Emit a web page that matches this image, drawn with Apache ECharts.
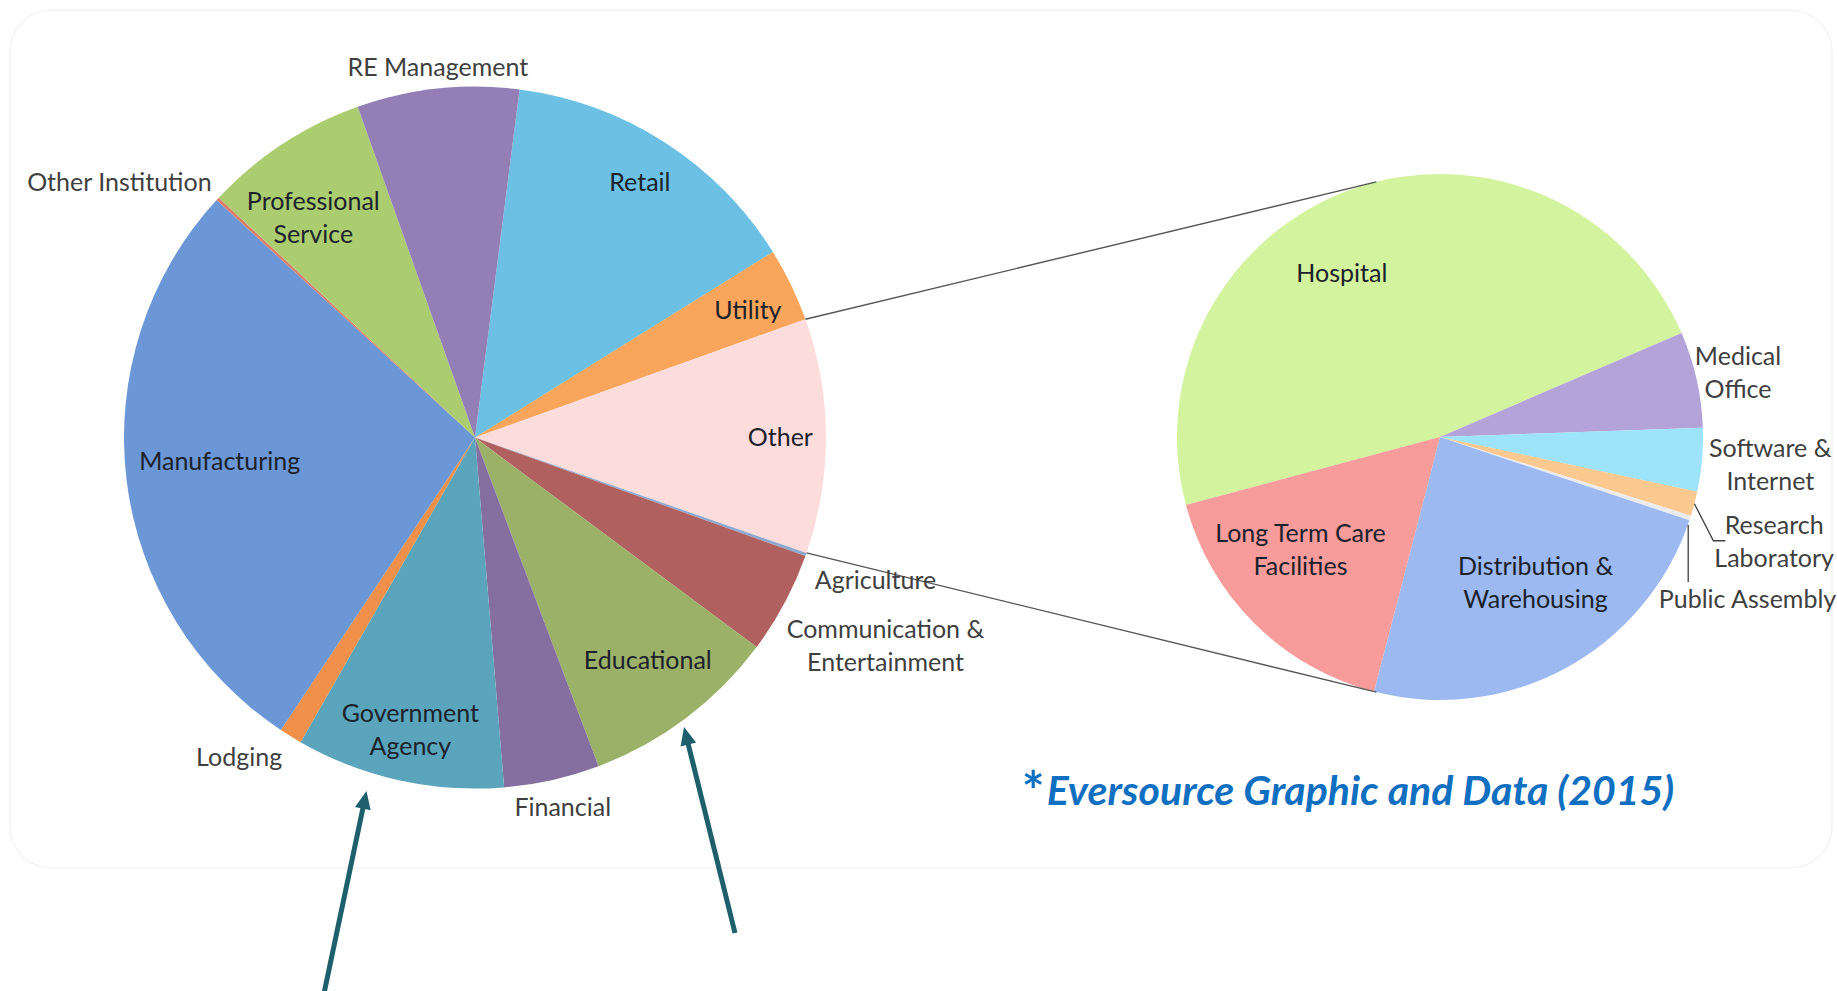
<!DOCTYPE html>
<html>
<head>
<meta charset="utf-8">
<script src="https://cdn.jsdelivr.net/npm/echarts@6/dist/echarts.min.js"></script>
<style>
html,body{margin:0;padding:0;background:#ffffff;}
#chart{width:1837px;height:991px;}
</style>
</head>
<body>
<div id="chart"></div>
<script>
// ---------- DATA ----------
const mainCategories = ['Retail','Utility','Other','Agriculture','Communication & Entertainment','Educational','Financial','Government Agency','Lodging','Manufacturing','Other Institution','Professional Service','RE Management'];
const mainValues = [14.1, 3.4, 10.8, 0.15, 4.7, 9.1, 4.4, 9.6, 1.05, 27.5, 0.15, 7.6, 7.45];
const otherCategories = ['Hospital','Medical Office','Software & Internet','Research Laboratory','Public Assembly','Distribution & Warehousing','Long Term Care Facilities'];
const otherValues = [47.7, 5.9, 3.9, 1.5, 0.3, 23.9, 16.8];
const explodedCategory = 'Other';
const sourceNote = '*Eversource Graphic and Data (2015)';

// ---------- STYLE ----------
const FONT = 'Lato, "Open Sans", "DejaVu Sans", sans-serif';
const LEFT = {cx: 475, cy: 437.6, r: 351, startAngle: 82.7};
const RIGHT = {cx: 1440, cy: 437, r: 263, startAngle: 195};
const mainColors = {
  'Retail':'#6BC0E3','Utility':'#F9A65C','Other':'#FDDCDC','Agriculture':'#8EA9D0',
  'Communication & Entertainment':'#B0605E','Educational':'#9BB168','Financial':'#856FA0',
  'Government Agency':'#5AA5BB','Lodging':'#F0904A','Manufacturing':'#6C97D6',
  'Other Institution':'#DB7D6B','Professional Service':'#ABCD70','RE Management':'#937FB5'
};
const otherColors = {
  'Hospital':'#D3F39E','Medical Office':'#B4A3D8','Software & Internet':'#9DE3FA',
  'Research Laboratory':'#FBC88F','Public Assembly':'#ECECEC',
  'Distribution & Warehousing':'#9CB9F2','Long Term Care Facilities':'#F89B9B'
};
// label placement: radius factor, angular nudge (deg, clockwise), inside flag
const mainLabels = {
  'Retail':{r:0.87,n:0,inside:true},
  'Utility':{r:0.86,n:0.5,inside:true},
  'Other':{r:0.87,n:0,inside:true},
  'Agriculture':{r:1.21,n:0},
  'Communication & Entertainment':{text:'Communication &\nEntertainment',r:1.31,n:-1.4},
  'Educational':{r:0.80,n:-1,inside:true},
  'Financial':{r:1.08,n:-0.7},
  'Government Agency':{text:'Government\nAgency',r:0.85,n:0,inside:true},
  'Lodging':{r:1.13,n:4.8},
  'Manufacturing':{r:0.73,n:2,inside:true},
  'Other Institution':{r:1.25,n:-7},
  'Professional Service':{text:'Professional\nService',r:0.78,n:-3,inside:true},
  'RE Management':{r:1.065,n:0.4}
};
const otherLabels = {
  'Hospital':{r:0.73,n:-11.6,inside:true},
  'Medical Office':{text:'Medical\nOffice',r:1.16,n:0.3},
  'Software & Internet':{text:'Software &\nInternet',r:1.26,n:-0.4},
  'Research Laboratory':{text:'Research\nLaboratory',r:1.33,n:2.5,leader:[[0,0],[19,37],[31,37]]},
  'Public Assembly':{r:1.32,n:9.7,leader:[[-2,7],[-2,64]]},
  'Distribution & Warehousing':{text:'Distribution &\nWarehousing',r:0.66,n:-4.9,inside:true},
  'Long Term Care Facilities':{text:'Long Term Care\nFacilities',r:0.68,n:6.5,inside:true}
};
const connectorTargets = [346, 194]; // clockwise deg from top on the secondary pie

const chart = echarts.init(document.getElementById('chart'), null, {renderer:'svg'});

function pieSeries(cats, vals, colors, geo){
  return {
    type:'pie', center:[geo.cx, geo.cy], radius:[0, geo.r],
    startAngle: geo.startAngle, clockwise:true, animation:false, silent:true,
    avoidLabelOverlap:false, label:{show:false}, labelLine:{show:false},
    emphasis:{disabled:true}, itemStyle:{borderWidth:0},
    data: cats.map((c,i)=>({name:c, value:vals[i], itemStyle:{color:colors[c]}}))
  };
}

chart.setOption({
  backgroundColor:'#ffffff',
  tooltip:{show:false},
  series:[
    pieSeries(mainCategories, mainValues, mainColors, LEFT),
    pieSeries(otherCategories, otherValues, otherColors, RIGHT)
  ]
});

function sliceGeom(seriesIndex, vals, geo){
  const out = [];
  try{
    const data = chart.getModel().getSeriesByIndex(seriesIndex).getData();
    for(let i=0;i<data.count();i++){
      const l = data.getItemLayout(i);
      out.push({a0:l.startAngle, a1:l.endAngle, cx:l.cx, cy:l.cy, r:l.r});
    }
    if(out.length === vals.length) return out;
  }catch(e){}
  out.length = 0;
  const total = vals.reduce((a,b)=>a+b,0);
  let a = -geo.startAngle*Math.PI/180;
  vals.forEach(v=>{const d=v/total*Math.PI*2; out.push({a0:a,a1:a+d,cx:geo.cx,cy:geo.cy,r:geo.r}); a+=d;});
  return out;
}
function polar(g, rf, nudge){
  const m = (g.a0+g.a1)/2 + (nudge||0)*Math.PI/180;
  return [g.cx + rf*g.r*Math.cos(m), g.cy + rf*g.r*Math.sin(m)];
}
function edge(g, ang){ return [g.cx + g.r*Math.cos(ang), g.cy + g.r*Math.sin(ang)]; }

const gLeft = sliceGeom(0, mainValues, LEFT);
const gRight = sliceGeom(1, otherValues, RIGHT);
const elements = [];

// background rounded frame
elements.push({type:'rect', z:-10, shape:{x:10,y:10,width:1822,height:858,r:42},
  style:{fill:'#ffffff', stroke:'#F4F4F4', lineWidth:1.5}});

function addLabels(cats, geoms, table, fs){
  cats.forEach((c,i)=>{
    const s = table[c]; if(!s) return;
    const p = polar(geoms[i], s.r, s.n);
    elements.push({type:'text', x:p[0], y:p[1], z:20, style:{
      text: s.text || c, fill: s.inside ? '#1B222B' : '#3F3F3F',
      fontSize: fs, fontFamily: FONT, lineHeight: 33,
      align:'center', textAlign:'center', verticalAlign:'middle', textVerticalAlign:'middle'
    }});
    if(s.leader){
      const e = polar(geoms[i], 1, 0);
      elements.push({type:'polyline', z:15, shape:{points:s.leader.map(q=>[e[0]+q[0], e[1]+q[1]])},
        style:{stroke:'#404040', lineWidth:1.3, fill:null}});
    }
  });
}
addLabels(mainCategories, gLeft, mainLabels, 25);
addLabels(otherCategories, gRight, otherLabels, 25);

// connector lines from the exploded slice to the secondary pie
const oi = mainCategories.indexOf(explodedCategory);
const og = gLeft[oi];
const rg = gRight[0];
const p1 = edge(og, og.a0), p2 = edge(og, og.a1);
const t1 = [rg.cx + rg.r*Math.sin(connectorTargets[0]*Math.PI/180), rg.cy - rg.r*Math.cos(connectorTargets[0]*Math.PI/180)];
const t2 = [rg.cx + rg.r*Math.sin(connectorTargets[1]*Math.PI/180), rg.cy - rg.r*Math.cos(connectorTargets[1]*Math.PI/180)];
[[p1,t1],[p2,t2]].forEach(([a,b])=>{
  elements.push({type:'line', z:12, shape:{x1:a[0],y1:a[1],x2:b[0],y2:b[1]}, style:{stroke:'#555555', lineWidth:1.4}});
});

// annotation arrows
function arrow(tail, tip){
  const dx=tip[0]-tail[0], dy=tip[1]-tail[1], L=Math.hypot(dx,dy), ux=dx/L, uy=dy/L;
  const hl=18, hw=8;
  const b=[tip[0]-ux*hl, tip[1]-uy*hl];
  elements.push({type:'line', z:30, shape:{x1:tail[0],y1:tail[1],x2:b[0]+ux*2,y2:b[1]+uy*2}, style:{stroke:'#1E5F6C', lineWidth:5}});
  elements.push({type:'polygon', z:30, shape:{points:[tip,[b[0]-uy*hw,b[1]+ux*hw],[b[0]+uy*hw,b[1]-ux*hw]]}, style:{fill:'#1E5F6C'}});
}
arrow([322, 1003], [366.5, 791]);
arrow([735, 933], [684, 727]);

// source note
const starIdx = sourceNote.indexOf('*');
const noteRich = starIdx === 0 ? '{s|*}{t|' + sourceNote.slice(1) + '}' : '{t|' + sourceNote + '}';
elements.push({type:'text', x:1348, y:789, z:20, style:{
  text: noteRich, fill:'#0F6FC0', fontFamily:FONT,
  align:'center', textAlign:'center', verticalAlign:'middle', textVerticalAlign:'middle',
  rich:{
    s:{fontSize:54, fontWeight:'bold', fill:'#0F6FC0', fontFamily:FONT, padding:[0,2,0,0]},
    t:{fontSize:41, fontWeight:'bold', fontStyle:'italic', fill:'#0F6FC0', fontFamily:FONT}
  }
}});

chart.setOption({graphic:{elements:elements}});
</script>
</body>
</html>
